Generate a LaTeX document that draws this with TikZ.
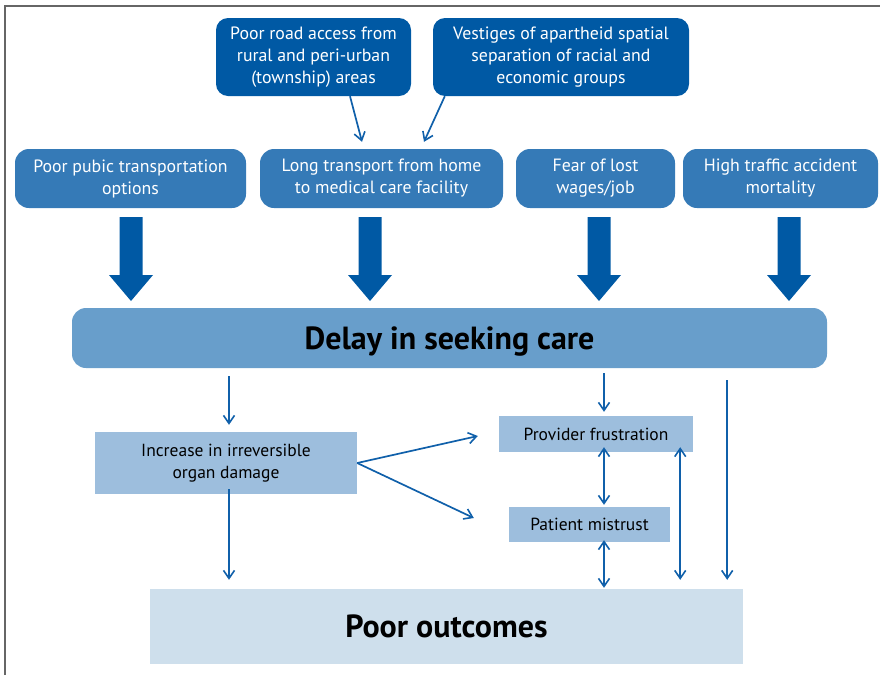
\documentclass[tikz,border=0pt]{standalone}
\usepackage{fontspec}
\setmainfont{PT Sans}
\usepackage{tikz}
\usetikzlibrary{arrows.meta,calc}

\definecolor{darkblue}{RGB}{0,89,164}
\definecolor{midblue}{RGB}{53,122,183}
\definecolor{delayblue}{RGB}{104,158,203}
\definecolor{paleblue}{RGB}{157,190,221}
\definecolor{outblue}{RGB}{206,223,236}
\definecolor{linkblue}{RGB}{16,96,170}

\begin{document}
\begin{tikzpicture}[x=1pt,y=-1pt,
    topbox/.style={fill=darkblue,rounded corners=12pt,text=white,align=center,
        inner sep=0pt,font=\fontsize{17.8}{22}\selectfont},
    causebox/.style={fill=midblue,rounded corners=14pt,text=white,align=center,
        inner sep=0pt,minimum height=59pt,font=\fontsize{17.8}{22}\selectfont},
    effectbox/.style={fill=paleblue,align=center,inner sep=0pt,
        text=black,font=\fontsize{17.5}{22}\selectfont},
    conn/.style={draw=linkblue,line width=1.7pt,
        -{Straight Barb[length=8pt,width=11pt,line width=1.6pt]}},
    twoway/.style={draw=linkblue,line width=1.7pt,
        {Straight Barb[length=8pt,width=11pt,line width=1.6pt]}-{Straight Barb[length=8pt,width=11pt,line width=1.6pt]}},
    bigarrow/.style={fill=darkblue}]
    \useasboundingbox (0,0) rectangle (880,675);

    % Frame
    \draw [black!60,line width=1.2pt] (5,675) -- (5,6) -- (880,6);

    % Root causes
    \node [topbox,minimum width=195pt,minimum height=78pt] (road) at (313.5,57)
        {Poor road access from\\rural and peri-urban\\(township) areas};
    \node [topbox,minimum width=256pt,minimum height=78pt] (vestiges) at (561,57)
        {Vestiges of apartheid spatial\\separation of racial and\\economic groups};

    % Causes of delay
    \node [causebox,minimum width=231pt] (pubic) at (130.5,178.5)
        {Poor pubic transportation\\options};
    \node [causebox,minimum width=243pt] (longtr) at (381.5,178.5)
        {Long transport from home\\to medical care facility};
    \node [causebox,minimum width=159pt] (fear) at (595.5,178.5)
        {Fear of lost\\wages/job};
    \node [causebox,minimum width=195pt] (traffic) at (780.5,178.5)
        {High traffic accident\\mortality};

    \draw [conn] ($(road.south)+(36.5,0)$) -- ($(longtr.north)+(-19.5,-7)$);
    \draw [conn] ($(vestiges.south west)+(12,0)$) -- ($(longtr.north)+(42.5,-7)$);

    % Block arrows
    \foreach \cx in {131,370,599,789}
        \fill [bigarrow] (\cx-11.5,217) -- (\cx+11.5,217) -- (\cx+11.5,275)
            -- (\cx+22,275) -- (\cx,301) -- (\cx-22,275) -- (\cx-11.5,275) -- cycle;

    % Delay
    \node [fill=delayblue,rounded corners=14pt,minimum width=755pt,minimum height=60pt,
        inner sep=0pt,text depth=0pt,font=\fontsize{32}{36}\bfseries] (delay) at (449.5,338)
        {Delay in seeking care};

    % Consequences
    \node [effectbox,minimum width=262pt,minimum height=62pt] (organ) at (226,463)
        {Increase in irreversible\\organ damage};
    \node [effectbox,minimum width=194pt,minimum height=36pt] (provider) at (596,434)
        {Provider frustration};
    \node [effectbox,minimum width=161pt,minimum height=35pt] (mistrust) at (589.5,524.5)
        {Patient mistrust};
    \node [fill=outblue,minimum width=593pt,minimum height=75pt,inner sep=0pt,
        font=\fontsize{32}{36}\bfseries] (outcomes) at (446.5,626.5)
        {Poor outcomes};

    \draw [conn] ($(organ.north |- delay.south)+(3,8)$) -- ($(organ.north)+(3,-7)$);
    \draw [conn] ($(provider.north |- delay.south)+(8,5)$) -- ($(provider.north)+(8,-4)$);
    \draw [conn] ($(outcomes.north east |- delay.south)+(-16,12)$)
        -- ($(outcomes.north east)+(-16,-9)$);
    \draw [conn] (organ.east) -- ($(provider.west)+(-21,2)$);
    \draw [conn] (organ.east) -- ($(mistrust.west)+(-35,-6.5)$);
    \draw [conn] ($(organ.south)+(3,-5)$) -- ($(outcomes.north -| organ.south)+(3,-9)$);
    \draw [twoway] ($(provider.south)+(8,-5)$) -- ($(provider.south |- mistrust.north)+(8,-2)$);
    \draw [twoway] ($(provider.south |- mistrust.south)+(8,-2)$)
        -- ($(provider.south |- outcomes.north)+(8,-1)$);
    \draw [twoway] ($(provider.south east)+(-13,-5)$)
        -- ($(provider.south east |- outcomes.north)+(-13,-9)$);
\end{tikzpicture}
\end{document}
